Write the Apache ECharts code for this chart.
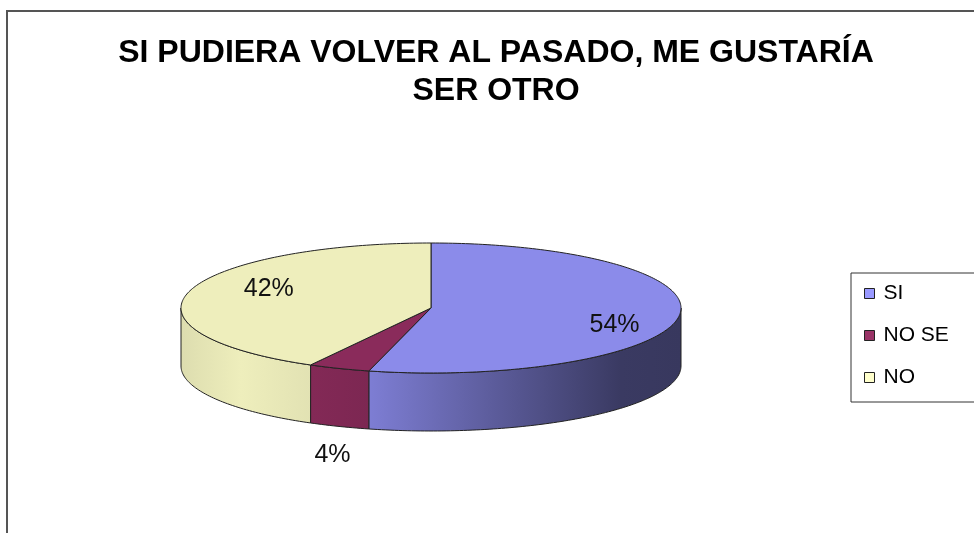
<!DOCTYPE html>
<html>
<head>
<meta charset="utf-8">
<script src="https://cdn.jsdelivr.net/npm/echarts@6/dist/echarts.min.js"></script>
<style>
  html, body { margin: 0; padding: 0; background: #fff; }
  #pie3d { width: 974px; height: 533px; }
</style>
</head>
<body>
<div id="pie3d"></div>
<script>
// data
const categories = ['SI', 'NO SE', 'NO']
const values = [54, 4, 42]
const valueLabels = ['54%', '4%', '42%']

// colours
const legendColors = ['#9999ff', '#993366', '#ffffcc']
const topColors = ['#8b8bea', '#8a2b5b', '#eeeebc']

// flattened pie geometry
const cx = 431, cy = 308, rx = 250, ry = 65, depth = 58
// label placement: [ratio of radius, extra dy]
const labelPlace = [[0.74, 11], [1.07, 82], [0.67, -8]]

const total = values.reduce((a, b) => a + b, 0)

function pt(deg, dy) {
  const r = deg * Math.PI / 180
  return [cx + rx * Math.sin(r), cy - ry * Math.cos(r) + (dy || 0)]
}

function arcPoints(a0, a1, dy) {
  const pts = []
  const n = Math.max(2, Math.ceil((a1 - a0) / 1))
  for (let k = 0; k <= n; k++) {
    pts.push(pt(a0 + (a1 - a0) * k / n, dy))
  }
  return pts
}

function shade(hex, f) {
  const n = parseInt(hex.slice(1), 16)
  const c = [(n >> 16) & 255, (n >> 8) & 255, n & 255].map(v => Math.min(255, Math.round(v * f)))
  return 'rgb(' + c.join(',') + ')'
}

function wallGradient(hex) {
  const stops = [[0, 0.93], [0.12, 1.0], [0.26, 0.95], [0.38, 0.9], [0.64, 0.65], [0.88, 0.42], [1, 0.4]]
  return {
    type: 'linear', x: cx - rx, y: 0, x2: cx + rx, y2: 0, global: true,
    colorStops: stops.map(s => ({ offset: s[0], color: shade(hex, s[1]) }))
  }
}

function renderSlice(params, api) {
  const i = params.seriesIndex
  let start = 0
  for (let k = 0; k < i; k++) start += values[k] / total * 360
  const end = start + api.value(0) / total * 360
  const children = []
  const s = Math.max(start, 90), e = Math.min(end, 270)
  if (s < e) {
    const wall = arcPoints(s, e, 0).concat(arcPoints(s, e, depth).reverse())
    children.push({
      type: 'polygon',
      shape: { points: wall },
      style: { fill: wallGradient(topColors[i]), stroke: '#222', lineWidth: 1, lineJoin: 'round' }
    })
  }
  children.push({
    type: 'polygon',
    shape: { points: [[cx, cy]].concat(arcPoints(start, end, 0)) },
    style: { fill: topColors[i], stroke: '#222', lineWidth: 1, lineJoin: 'round' }
  })
  const mid = (start + end) / 2 * Math.PI / 180
  const lp = labelPlace[i]
  children.push({
    type: 'text',
    x: cx + rx * lp[0] * Math.sin(mid),
    y: cy - ry * lp[0] * Math.cos(mid) + lp[1],
    z2: 10,
    style: {
      text: valueLabels[i], fill: '#111',
      font: '25px "Liberation Sans", Arial, sans-serif',
      align: 'center', verticalAlign: 'middle'
    }
  })
  return { type: 'group', children: children }
}

const chart = echarts.init(document.getElementById('pie3d'))
chart.setOption({
  animation: false,
  title: {
    text: 'SI PUDIERA VOLVER AL PASADO, ME GUSTARÍA\nSER OTRO',
    left: 496,
    top: 34,
    padding: 0,
    textAlign: 'center',
    textStyle: {
      fontFamily: 'Liberation Sans',
      fontSize: 32,
      fontWeight: 'bold',
      lineHeight: 38,
      color: '#000'
    }
  },
  legend: {
    orient: 'vertical',
    left: 851,
    top: 273,
    data: categories,
    icon: 'rect',
    itemWidth: 10,
    itemHeight: 10,
    itemGap: 21,
    padding: [10, 30, 14, 13],
    borderColor: '#333',
    borderWidth: 1,
    selectedMode: false,
    itemStyle: { borderColor: '#222', borderWidth: 1 },
    textStyle: {
      fontFamily: 'Liberation Sans',
      fontSize: 21,
      color: '#000',
      padding: [0, 0, 0, 4]
    }
  },
  graphic: [
    { type: 'line', shape: { x1: 6, y1: 11, x2: 974, y2: 11 }, style: { stroke: '#555', lineWidth: 2 } },
    { type: 'line', shape: { x1: 7, y1: 11, x2: 7, y2: 533 }, style: { stroke: '#555', lineWidth: 2 } }
  ],
  series: categories.map((name, i) => ({
    type: 'custom',
    name: name,
    coordinateSystem: 'none',
    itemStyle: { color: legendColors[i] },
    renderItem: renderSlice,
    data: [[values[i]]]
  }))
})
</script>
</body>
</html>
